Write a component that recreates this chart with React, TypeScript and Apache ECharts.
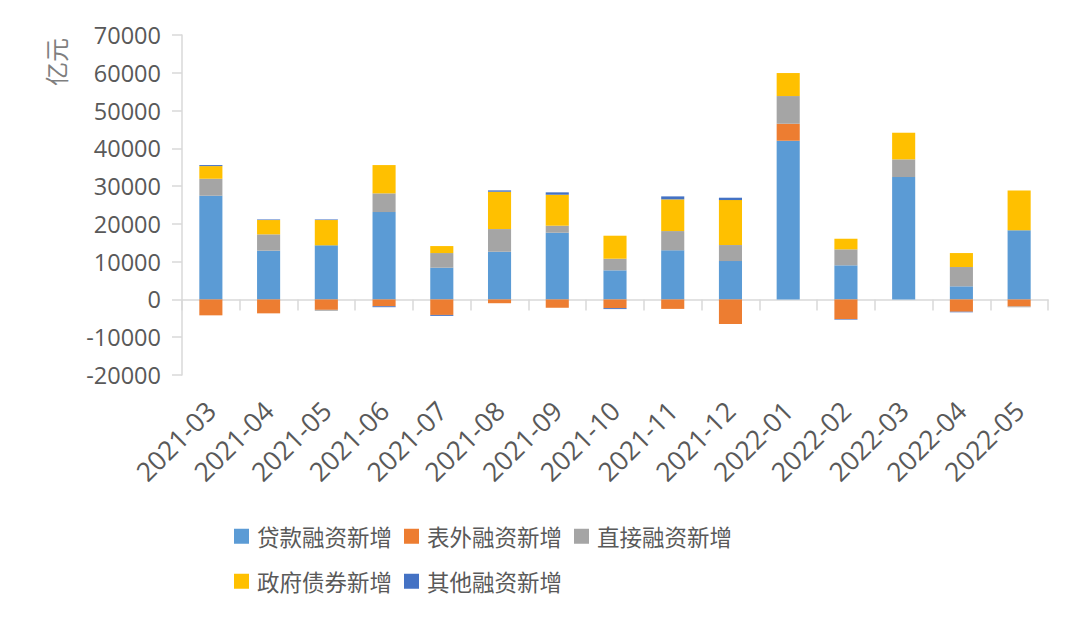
import React, { useEffect, useRef } from "react";
import * as echarts from "echarts";

const categories = [
  "2021-03", "2021-04", "2021-05", "2021-06", "2021-07", "2021-08", "2021-09", "2021-10",
  "2021-11", "2021-12", "2022-01", "2022-02", "2022-03", "2022-04", "2022-05",
];
const seriesNames = ["贷款融资新增", "表外融资新增", "直接融资新增", "政府债券新增", "其他融资新增"];
const loans = [27450, 12900, 14320, 23130, 8400, 12630, 17660, 7700, 13000, 10160, 42010, 9030, 32400, 3470, 18290];
const offBalance = [-4210, -3680, -2750, -1800, -4100, -1000, -2200, -2300, -2500, -6500, 4500, -5200, 0, -3250, -1900];
const direct = [4500, 4330, -250, 4950, 3880, 6000, 1860, 3080, 5100, 4240, 7330, 4230, 4680, 5110, -150];
const govBonds = [3350, 3790, 6700, 7490, 1850, 9880, 8200, 6090, 8390, 11910, 6090, 2810, 7050, 3700, 10580];
const others = [270, 150, 150, -250, -250, 360, 630, -250, 790, 620, 0, -150, 0, -150, 0];
const yTicks = { min: -20000, max: 70000, interval: 10000 };
const colors = ["#5B9BD5", "#ED7D31", "#A5A5A5", "#FFC000", "#4472C4"];

export default function App() {
  const ref = useRef<HTMLDivElement>(null);
  useEffect(() => {
    if (!ref.current) return;
    const chart = echarts.init(ref.current, null, { renderer: "svg" });
    const values = [loans, offBalance, direct, govBonds, others];
    const legendText = {
      fontSize: 22.5,
      color: "#595959",
      fontFamily: "Noto Sans CJK SC",
      padding: [0, 0, 0, 3],
    };
    chart.setOption({
      animation: false,
      backgroundColor: "#ffffff",
      color: colors,
      grid: { left: 182, right: 32, top: 35, bottom: 250, containLabel: false },
      legend: [
        {
          data: seriesNames.slice(0, 3),
          left: 234,
          top: 525,
          padding: 0,
          itemGap: 12,
          itemWidth: 15,
          itemHeight: 15,
          icon: "rect",
          textStyle: legendText,
        },
        {
          data: seriesNames.slice(3),
          left: 234,
          top: 570,
          padding: 0,
          itemGap: 12,
          itemWidth: 15,
          itemHeight: 15,
          icon: "rect",
          textStyle: legendText,
        },
      ],
      graphic: [
        {
          type: "text",
          x: 55,
          y: 62,
          rotation: Math.PI / 2,
          style: {
            text: "亿元",
            fontSize: 24,
            fill: "#7f7f7f",
            fontFamily: "Noto Sans CJK SC",
            align: "center",
            verticalAlign: "middle",
          },
        },
      ],
      xAxis: [
        {
          type: "category",
          data: categories,
          position: "bottom",
          axisLine: { show: false, onZero: false },
          axisTick: { show: false },
          axisLabel: {
            rotate: 45,
            fontSize: 26.5,
            color: "#595959",
            fontFamily: "Open Sans",
            margin: 31,
            interval: 0,
          },
        },
        {
          type: "category",
          data: categories,
          position: "bottom",
          axisLine: { show: true, onZero: true, lineStyle: { color: "#d9d9d9", width: 1.5 } },
          axisTick: { show: true, length: 11, lineStyle: { color: "#d9d9d9", width: 1.5 } },
          axisLabel: { show: false },
        },
      ],
      yAxis: {
        type: "value",
        min: yTicks.min,
        max: yTicks.max,
        interval: yTicks.interval,
        splitLine: { show: false },
        axisLine: { show: true, lineStyle: { color: "#d9d9d9", width: 1.5 } },
        axisTick: { show: true, length: 10, lineStyle: { color: "#d9d9d9", width: 1.5 } },
        axisLabel: {
          fontSize: 23.5,
          color: "#595959",
          fontFamily: "Open Sans",
          margin: 21,
          formatter: (v: number) => String(v),
        },
      },
      series: seriesNames.map((name, i) => ({
        name,
        type: "bar",
        stack: "total",
        xAxisIndex: 0,
        barWidth: "40%",
        data: values[i],
        itemStyle: { color: colors[i] },
      })),
    });
    return () => chart.dispose();
  }, []);
  return (
    <div
      ref={ref}
      style={{ position: "fixed", left: 0, top: 0, width: 1080, height: 625, background: "#fff" }}
    />
  );
}
